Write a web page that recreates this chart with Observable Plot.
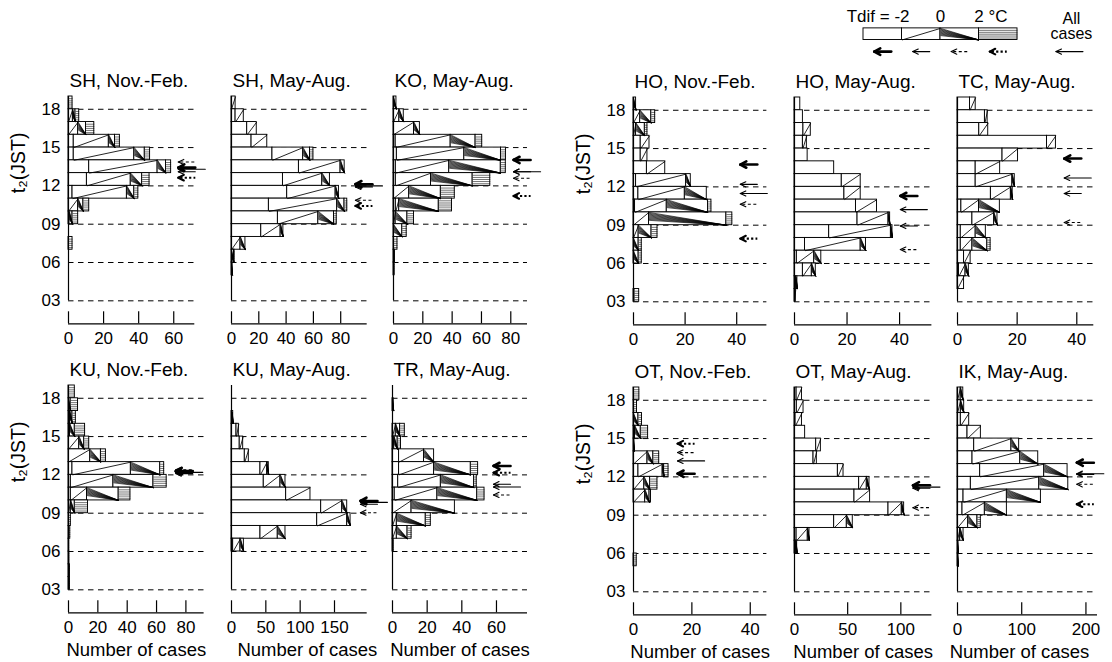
<!DOCTYPE html>
<html><head><meta charset="utf-8">
<script src="https://cdn.jsdelivr.net/npm/d3@7"></script>
<script src="https://cdn.jsdelivr.net/npm/@observablehq/plot@0.6"></script>
<style>
body{margin:0;background:#fff;}
#root{position:relative;width:1112px;height:662px;overflow:hidden;font-family:"Liberation Sans",Arial,Helvetica,sans-serif;}
#root svg{position:absolute;}
</style></head><body><div id="root"></div>
<script>
// ---------- DATA ----------
// each row: [hour t2 (bin h..h+1), Tdif<-2, -2..0, 0..2, >2 °C] number of cases
const shNovFeb = [[18,0,0,0,2.3],[17,0,2.5,1.5,2.1],[16,0,5.5,4.5,4.7],[15,3,20,3.5,2.8],[14,3,34.5,6,3],[13,11.8,39,4.8,2.9],[12,10.5,25,6.5,4.2],[11,2.3,31,4.2,2.3],[10,0,5.5,3,3.3],[9,0,0.5,1.8,3.2],[7,0,0,0,2.3]];
const shMayAug = [[18,0,3,0,0],[17,3,6,0,0],[16,11.5,7,0,0],[15,14.7,11.5,0,0],[14,30,22.5,5,2.5],[13,49.4,30.5,3,0],[12,37.7,28.8,5.6,0],[11,40.8,35.5,2.4,0],[10,27.4,50,5.4,2],[9,34,29.6,11.5,2],[8,21.8,14.2,2,0],[7,0,6.6,3.6,0],[6,0,0,1.8,0.5],[5,0,0,0.8,0]];
const koMayAug = [[18,0,0,2,0],[17,0,4,3,0],[16,0,14,4,0],[15,1.5,37.5,17,4.5],[14,2.3,46,25,3.4],[13,1.6,36.4,35.2,3.4],[12,1.6,24,28.4,12],[11,0,10.7,21.6,9.5],[10,1.6,2.3,27,9],[9,0,1.5,8,4.5],[8,0,0,6,3],[7,0,0,0,2.7],[6,0,0,0,1],[5,0,0,0,0.8]];
const hoNovFeb = [[18,0,0,1,0],[17,0,2.6,4.3,1.5],[16,0,1,3.4,1],[15,2.8,3.4,0,0],[14,2.8,2.6,0,0],[13,5.2,7.1,0,0],[12,1,19.4,1.8,0],[11,1.9,18,8.5,0],[10,0.6,12.3,16,1.3],[9,0,6,30,2.3],[8,0,2,5,2.3],[7,0,0,2,1.2],[6,0,0,2,1.2],[3,0.4,0,0,1.8]];
const hoMayAug = [[18,2.2,0,0,0],[17,3.2,0,0,0],[16,3.4,2.8,0,0],[15,3.2,1.5,0,0],[14,5,0,0,0],[13,15.1,0,0,0],[12,18,7.2,0,0],[11,19,6.2,0,0],[10,23.4,8,0,0],[9,24,11.8,0.6,0],[8,13.2,23.5,0.6,0],[7,4,21.2,2,0],[6,0.9,6.6,2.7,0],[5,3.2,3.4,1.5,0],[4,0,0.6,0.5,0],[3,0,0.5,0,0]];
const tcMayAug = [[18,4.2,1.9,0,0],[17,9.2,0.9,0,0],[16,7.3,3,0,0],[15,30,3,0,0],[14,15.1,5.2,0,0],[13,6.1,8.2,0,0],[12,6.1,12.3,0.8,0],[11,11.2,6.7,0.6,0],[10,1.3,5.9,7,0],[9,5,7.3,1.1,0],[8,1.1,5,3.4,0],[7,1.1,3.9,5,1.1],[6,2.2,2.2,0,0],[5,0.5,2.2,1.1,0],[4,0,2.2,0,0]];
const kuNovFeb = [[18,0,0,0,4.3],[17,0,0,1.5,5],[16,0,1,1.7,2.3],[15,0,1,3.3,7],[14,0,7.3,3.4,3.4],[13,0,14.8,7.3,3.4],[12,2.7,39.8,20,2.7],[11,1.6,29,27.3,9],[10,1.6,11,21.6,8],[9,0,1.6,2.7,9],[8,0,0,0,1.6],[7,0,0,0,1.2],[6,0,0,0,0.5],[5,0,0,0,0.6],[4,0,0,0,1],[3,0,0,0,1]];
const kuMayAug = [[16,0,1,1.5,0],[15,7.3,3.4,0,0],[14,12,5,0,0],[13,19.4,5.8,0,0],[12,42.2,9.7,2.4,0],[11,47,24.3,7.3,0],[10,79.6,35.4,0,0],[9,130.6,30.6,7.3,0],[8,124.8,43.7,4.9,0],[7,42.2,25.2,11.2,0],[6,2.4,10.7,4.9,0]];
const trMayAug = [[17,0,0,0.7,0],[15,0,1.9,2.5,2.7],[14,0,1,2,1.9],[13,3.8,14.4,5.8,0],[12,3.8,20.2,21.2,4.2],[11,3.3,24.6,19.2,1.5],[10,1.3,24.6,23,4.2],[9,0,11,25,0],[8,0,2.5,16.7,2.9],[7,0,2.5,6.2,2.3],[6,0,0,0,0.7]];
const otNovFeb = [[18,0,0,0,2],[17,0,0,0,1.2],[16,0,0,1.7,1.2],[15,0,0.5,2,2.5],[14,0,0,0.3,0],[13,0,4.8,2,2],[12,1.7,8.3,0.5,1.5],[11,0,3.7,2,2.5],[10,0,4,1.5,0.5],[5,0,0,0,1.1]];
const otMayAug = [[18,2,5,0,0],[17,2.2,6.3,0,0],[16,1,6,0,0],[15,10,0,0,0],[14,20.4,4.4,0,0],[13,17.9,3.1,0,0],[12,40.8,5.3,0,0],[11,60.8,7.2,2.5,0],[10,56.4,14.7,0,0],[9,88.4,12.5,2.2,0],[8,37.3,11.9,5.6,0],[7,2,10.5,1.6,0],[6,0,1.5,1,0]];
const ikMayAug = [[18,0,5,4,0],[17,0,5.2,5.2,0],[16,5.2,13,0,0],[15,15.6,20.8,0,0],[14,26,58,12,0],[13,23.4,74.3,28,0],[12,35.3,99.7,36.4,0],[11,20.8,106.5,45.2,0],[10,9.4,67.5,53,0],[9,7.8,34.8,34.3,0],[8,0,16.6,14.5,5.2],[7,0,4.2,5.2,0],[6,0,0,1.5,0],[5,0,0,1.5,0]];

// mean t2 arrows: [Tdif<-2, -2..0, 0..2, >2, all cases]
const shNovFebArrows = [13.43, 13.11, 13.87, 12.64, 13.30];
const shMayAugArrows = [12.13, 11.92, 10.87, 10.43, 12.0];
const koMayAugArrows = [14.03, 13.11, 12.6, 11.21, 13.11];
const hoNovFebArrows = [13.75, 12.2, 10.64, 7.95, 11.48];
const hoMayAugArrows = [11.29, 8.94, 7.09, null, 10.22];
const tcMayAugArrows = [14.22, 11.48, 9.21, null, 12.7];
const kuNovFebArrows = [12.3, 12.1, 12.4, 12.25, 12.2];
const kuMayAugArrows = [9.96, 9.7, 9.04, null, 9.85];
const trMayAugArrows = [12.7, 11.27, 10.43, 12.17, 11.05];
const otNovFebArrows = [12.25, 12.2, 13.9, 14.6, 13.25];
const otMayAugArrows = [11.34, 11.11, 9.59, null, 11.2];
const ikMayAugArrows = [13.11, 12.2, 11.42, 9.86, 12.25];

const titles = ["SH, Nov.-Feb.","SH, May-Aug.","KO, May-Aug.","HO, Nov.-Feb.","HO, May-Aug.","TC, May-Aug.",
                "KU, Nov.-Feb.","KU, May-Aug.","TR, May-Aug.","OT, Nov.-Feb.","OT, May-Aug.","IK, May-Aug."];
const xMax = [72, 99.4, 91.4, 51.7, 52.3, 45.7, 92.4, 197.6, 77.9, 45.7, 129.2, 218];
const xTicks = [[0,20,40,60],[0,20,40,60,80],[0,20,40,60,80],[0,20,40],[0,20,40],[0,20,40],
                [0,20,40,60,80],[0,50,100,150],[0,20,40,60],[0,20,40],[0,50,100],[0,100,200]];
const arrowTip = [62.6, 90.8, 81.9, 41.4, 40.3, 35.8, 73.1, 187.8, 58.3, 15.1, 111.4, 185.8];
const gridHours = [3, 6, 9, 12, 15, 18];
const yLabel = "t₂(JST)";
const xLabel = "Number of cases";

// legend
const legendTdif = [-2, 0, 2];
const legendTdifText = ["Tdif = -2", "0", "2 °C"];
const legendAllText = ["All", "cases"];
const legendBar = [[0, 2, 2, 2, 2]];

const panels = [
  [shNovFeb, shNovFebArrows], [shMayAug, shMayAugArrows], [koMayAug, koMayAugArrows],
  [hoNovFeb, hoNovFebArrows], [hoMayAug, hoMayAugArrows], [tcMayAug, tcMayAugArrows],
  [kuNovFeb, kuNovFebArrows], [kuMayAug, kuMayAugArrows], [trMayAug, trMayAugArrows],
  [otNovFeb, otNovFebArrows], [otMayAug, otMayAugArrows], [ikMayAug, ikMayAugArrows]
];

// ---------- LAYOUT ----------
const layout = [
  {x0: 67.7, xEnd: 194, yTop: 95.5}, {x0: 231, xEnd: 366.7, yTop: 95.5}, {x0: 392.7, xEnd: 526.7, yTop: 95.5},
  {x0: 633.3, xEnd: 766.7, yTop: 97.2}, {x0: 794.3, xEnd: 931.7, yTop: 97.2}, {x0: 956.7, xEnd: 1093, yTop: 97.2},
  {x0: 67.7, xEnd: 203.3, yTop: 384.5}, {x0: 231, xEnd: 366.7, yTop: 384.5, ldx: 8}, {x0: 391.7, xEnd: 526.7, yTop: 384.5},
  {x0: 633.3, xEnd: 766.7, yTop: 386.5}, {x0: 794.3, xEnd: 931.7, yTop: 386.5}, {x0: 956.7, xEnd: 1096.7, yTop: 386.5, ldx: -8}
];
const FONT = '"Liberation Sans", Arial, Helvetica, sans-serif';
const T_MIN = 3, T_MAX = 19, Y_AXIS = 1.2;
const PX_H = 12.77;
const TICK_H = 12 / PX_H;
const ML = 62, MR = 48, MT = 34, MB = 52;
const FAN_N = 10, FAN_SPAN = 0.62;
const HATCH_F = [0.17, 0.34, 0.5, 0.66, 0.83];
const ARROW_STYLE = [
  {w: 2.6, len: 17, hx: 6, hy: 3.2},
  {w: 1.1, len: 17, hx: 5.5, hy: 2.6},
  {w: 1.1, len: 17, hx: 5.5, hy: 2.6},
  {w: 2.1, len: 17, hx: 5.5, hy: 2.8},
  {w: 1.1, len: 27, hx: 5.5, hy: 2.6}
];

function segments(rows, x0 = 0) {
  const out = [];
  for (const [h, ...vals] of rows) {
    let cum = x0;
    vals.forEach((v, k) => { if (v > 0) out.push({k, x1: cum, x2: cum + v, y1: h, y2: h + 1}); cum += v; });
  }
  return out;
}
function hatches(segs) {
  const diag = segs.filter(s => s.k === 1).map(s => ({x1: s.x1, y1: s.y1, x2: s.x2, y2: s.y2}));
  const fan = segs.filter(s => s.k === 2).flatMap(s => d3.range(FAN_N).map(j => ({x1: s.x1, y1: s.y2 - j * FAN_SPAN * (s.y2 - s.y1) / (FAN_N - 1), x2: s.x2, y2: s.y1})));
  const horiz = segs.filter(s => s.k === 3).flatMap(s => HATCH_F.map(f => ({x1: s.x1, y1: s.y1 + f * (s.y2 - s.y1), x2: s.x2, y2: s.y1 + f * (s.y2 - s.y1)})));
  return {diag, fan, horiz};
}
const L = (w, extra = {}) => ({x1: "x1", y1: "y1", x2: "x2", y2: "y2", stroke: "black", strokeWidth: w, ...extra});

function barMarks(segs) {
  const H = hatches(segs);
  return [
    Plot.rect(segs, {x1: "x1", x2: "x2", y1: "y1", y2: "y2", fill: "white", stroke: "black", strokeWidth: 0.95}),
    Plot.link(H.diag, L(0.85)),
    Plot.link(H.fan, L(0.65)),
    Plot.link(H.horiz, L(0.55))
  ];
}
function arrowMarks(items, u, pxY) {
  const solid = [], dashed = [], dotted = [];
  for (const {x, y, k} of items) {
    if (y == null) continue;
    const s = ARROW_STYLE[k];
    const dashedShaft = k === 2 || k === 3;
    const shaft = {x1: x + (dashedShaft ? 2 : 0.5) * u, x2: x + s.len * u, y1: y, y2: y, w: s.w};
    (k === 2 ? dashed : k === 3 ? dotted : solid).push(shaft);
    for (const sg of [1, -1]) solid.push({x1: x, y1: y, x2: x + s.hx * u, y2: y + sg * s.hy / pxY, w: s.w});
  }
  return [
    Plot.link(solid, L("w", {strokeLinecap: "round"})),
    Plot.link(dashed, L("w", {strokeDasharray: "3,2.5"})),
    Plot.link(dotted, L("w", {strokeDasharray: "2.2,2.2"}))
  ];
}

const root = document.getElementById("root");
function place(svg, left, top) { svg.style.left = left + "px"; svg.style.top = top + "px"; root.appendChild(svg); }
const baseStyle = {fontFamily: FONT, fontSize: "17px", background: "transparent", overflow: "visible", color: "black"};

panels.forEach(([rows, arrows], i) => {
  const lay = layout[i];
  const pw = lay.xEnd - lay.x0;
  const u = xMax[i] / pw;
  const ph = (T_MAX - Y_AXIS) * PX_H;
  const col = i % 6;
  const hasY = col === 0 || col === 3;
  const bottomRow = i >= 6;
  const segs = segments(rows);
  const marks = [
    Plot.ruleY(gridHours, {stroke: "black", strokeWidth: 1, strokeDasharray: "5.5,4.5"}),
    ...barMarks(segs),
    Plot.ruleX([0], {y1: T_MIN, y2: T_MAX, stroke: "black", strokeWidth: 1.2}),
    Plot.ruleY([Y_AXIS], {stroke: "black", strokeWidth: 1.2}),
    Plot.ruleX(xTicks[i], {y1: Y_AXIS, y2: Y_AXIS + TICK_H, stroke: "black", strokeWidth: 1.2}),
    Plot.axisX({ticks: xTicks[i], tickSize: 0, tickPadding: 8, fontSize: 17, anchor: "bottom"}),
    ...arrowMarks(arrows.map((y, k) => ({x: arrowTip[i], y, k})), u, PX_H),
    Plot.text([titles[i]], {text: d => d, frameAnchor: "top-left", textAnchor: "start", lineAnchor: "middle", dx: 1, dy: -15.8, fontSize: 19})
  ];
  if (hasY) {
    marks.push(Plot.axisY({ticks: gridHours, tickFormat: d3.format("02d"), tickSize: 0, tickPadding: 8, fontSize: 17}));
    marks.push(Plot.text([yLabel], {text: d => d, frameAnchor: "left", rotate: -90, dx: -50, dy: -17, fontSize: 19.5}));
  }
  if (bottomRow) {
    marks.push(Plot.text([xLabel], {text: d => d, frameAnchor: "bottom", lineAnchor: "middle", dy: 37.5, dx: lay.ldx || 0, fontSize: 18.5}));
  }
  const svg = Plot.plot({
    width: ML + pw + MR, height: MT + ph + MB,
    marginLeft: ML, marginRight: MR, marginTop: MT, marginBottom: MB,
    x: {domain: [0, xMax[i]]},
    y: hasY ? {domain: [Y_AXIS, T_MAX]} : {domain: [Y_AXIS, T_MAX], axis: null},
    style: baseStyle,
    marks
  });
  place(svg, lay.x0 - ML, lay.yTop - MT);
});

// ---------- LEGEND ----------
{
  const LX0 = 863.3, LPX = 19.25, LPY = 11.6;
  const xd = [-4, 8.5], yd = [-1.8, 2.8];
  const lml = 14, lmt = 6, lmb = 4;
  const w = (xd[1] - xd[0]) * LPX, h = (yd[1] - yd[0]) * LPY;
  const u = 1 / LPX;
  const segs = segments(legendBar, -4);
  const centers = [-3, -1, 1, 3, 6.7];
  const items = ARROW_STYLE.map((s, k) => ({x: centers[k] - s.len * u / 2, y: -1.0, k}));
  const anchors = ["end", "middle", "start"];
  const shifts = [7.5, 0, -4.7];
  const svg = Plot.plot({
    width: lml + w, height: lmt + h + lmb,
    marginLeft: lml, marginRight: 0, marginTop: lmt, marginBottom: lmb,
    x: {domain: xd, axis: null}, y: {domain: yd, axis: null},
    style: baseStyle,
    marks: [
      ...barMarks(segs),
      ...arrowMarks(items, u, LPY),
      ...legendTdif.map((t, i) => Plot.text([t], {x: d => d, y: () => 2.03, text: () => legendTdifText[i],
        textAnchor: anchors[i], dx: shifts[i], fontSize: 17})),
      Plot.text([legendAllText[0]], {x: () => 6.8, y: () => 1.78, text: d => d, fontSize: 16}),
      Plot.text([legendAllText[1]], {x: () => 6.8, y: () => 0.5, text: d => d, fontSize: 16})
    ]
  });
  place(svg, LX0 - lml, 27.7 - (yd[1] - 1) * LPY - lmt);
}
</script></body></html>
